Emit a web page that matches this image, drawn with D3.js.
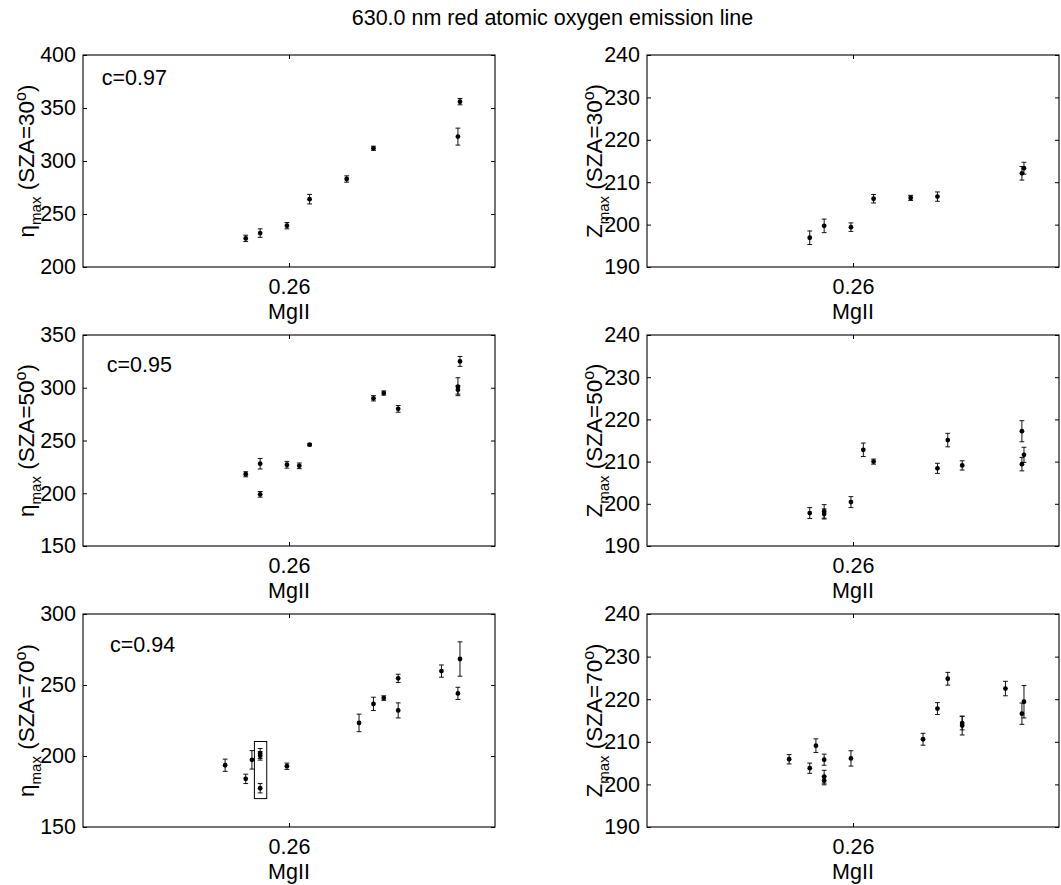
<!DOCTYPE html>
<html>
<head>
<meta charset="utf-8">
<script src="https://cdn.jsdelivr.net/npm/d3@7"></script>
<style>
  body { margin: 0; background: #fff; }
  svg { display: block; font-family: "Liberation Sans", Arial, Helvetica, sans-serif; }
</style>
</head>
<body>
<svg id="chart" width="1061" height="885"></svg>
<script>
// ---------------- DATA ----------------
const TITLE = "630.0 nm red atomic oxygen emission line";
const X_TICKS = [0.26];
const X_LABEL = "MgII";

// Row 1 : SZA = 30
const MG_30 = [0.2579, 0.2586, 0.2599, 0.2610, 0.2628, 0.2641, 0.2682, 0.2683];
const ETA_30 = [227, 232, 239, 264, 283, 312, 323, 356];
const ETA_30_ERR = [3, 4, 3, 4.5, 3, 2, 8, 3];
const Z_30 = [196.9, 199.7, 199.4, 206.1, 206.3, 206.6, 212.1, 213.3];
const Z_30_ERR = [1.6, 1.6, 1.0, 1.0, 0.6, 1.1, 1.6, 1.4];

// Row 2 : SZA = 50
const MG_50 = [0.2579, 0.2586, 0.2586, 0.2599, 0.2605, 0.2610, 0.2641, 0.2646, 0.2653, 0.2682, 0.2682, 0.2683];
const ETA_50 = [218, 228, 199, 227, 226, 246, 290, 295, 280, 301, 298, 325];
const ETA_50_ERR = [2.4, 5, 2.7, 3.2, 2.7, 1, 2.5, 2, 3.2, 8.5, 4, 4.7];
const Z_50 = [197.8, 198.2, 197.6, 200.4, 212.8, 210.0, 208.4, 215.1, 209.1, 217.2, 209.4, 211.6];
const Z_50_ERR = [1.3, 1.6, 1.2, 1.3, 1.6, 0.6, 1.2, 1.6, 1.1, 2.5, 1.6, 1.8];

// Row 3 : SZA = 70
const MG_70 = [0.2569, 0.2579, 0.2582, 0.2586, 0.2586, 0.2586, 0.2599, 0.2634, 0.2641, 0.2646, 0.2653, 0.2653, 0.2674, 0.2682, 0.2683];
const ETA_70 = [193.5, 183.9, 197.3, 201.8, 200.1, 177.3, 192.8, 223.3, 236.7, 240.8, 254.7, 232.1, 259.8, 244.1, 268.3];
const ETA_70_ERR = [4.3, 3.3, 6.5, 3.5, 3, 3.3, 2.2, 6.2, 4.7, 1.6, 2.9, 5.3, 4.3, 4.3, 12.1];
const Z_70 = [205.9, 203.8, 209.1, 205.8, 201.8, 200.9, 206.1, 210.6, 217.8, 224.8, 214.4, 213.8, 222.5, 216.6, 219.4];
const Z_70_ERR = [1.1, 1.2, 1.6, 1.3, 1.5, 1.0, 1.8, 1.4, 1.4, 1.5, 1.6, 2.2, 1.7, 2.5, 3.8];

const SZA = ["30", "50", "70"];
const ETA_DOMAINS = [[200, 400], [150, 350], [150, 300]];
const ETA_TICKS = [[200, 250, 300, 350, 400], [150, 200, 250, 300, 350], [150, 200, 250, 300]];
const Z_DOMAIN = [190, 240];
const Z_TICKS = [190, 200, 210, 220, 230, 240];
const CORR = ["c=0.97", "c=0.95", "c=0.94"];
const CORR_POS = [[0.25091, 371.7], [0.25115, 315.2], [0.25131, 273]];
// highlighted box in the SZA=70 eta panel: [x0, x1, y0, y1]
const BOX_70 = [0.25832, 0.25892, 170, 210.2];

// ---------------- LAYOUT ----------------
const X_DOMAIN = [0.25, 0.27];
const COLS = [{ left: 83, width: 412 }, { left: 647, width: 412 }];
const ROWS = [{ top: 55, height: 212 }, { top: 335, height: 211 }, { top: 614, height: 213 }];
const FS = 21.5;

const svg = d3.select("#chart");

svg.append("text")
  .attr("x", 552.5).attr("y", 25)
  .attr("text-anchor", "middle")
  .attr("font-size", FS)
  .attr("fill", "#000")
  .text(TITLE);

function drawPanel(col, row, xs, ys, errs, yDomain, yTicks, sym, sza, corr, corrPos, box) {
  const L = COLS[col], R = ROWS[row];
  const g = svg.append("g").attr("transform", `translate(${L.left},${R.top})`);
  const w = L.width, h = R.height;
  const x = d3.scaleLinear().domain(X_DOMAIN).range([0, w]);
  const y = d3.scaleLinear().domain(yDomain).range([h, 0]);

  // axes (ticks inward)
  const ax = (sel) => sel.call(s => s.select(".domain").remove())
    .call(s => s.selectAll("line").attr("stroke", "#000"))
    .call(s => s.selectAll("text").attr("font-size", FS).attr("fill", "#000")
      .attr("font-family", '"Liberation Sans", Arial, sans-serif'));

  g.append("g").call(d3.axisLeft(y).tickValues(yTicks).tickSize(-4).tickPadding(7)).call(ax);
  g.append("g").attr("transform", `translate(${w},0)`)
    .call(d3.axisRight(y).tickValues(yTicks).tickSize(-4).tickFormat("")).call(ax);
  g.append("g").attr("transform", `translate(0,${h})`)
    .call(d3.axisBottom(x).tickValues(X_TICKS).tickSize(-4).tickPadding(12).tickFormat(d3.format(".2f"))).call(ax);
  g.append("g")
    .call(d3.axisTop(x).tickValues(X_TICKS).tickSize(-4).tickFormat("")).call(ax);

  g.append("rect").attr("x", 0).attr("y", 0).attr("width", w).attr("height", h)
    .attr("fill", "none").attr("stroke", "#000").attr("stroke-width", 1.1);

  // x label
  g.append("text").attr("x", w / 2).attr("y", h + 52)
    .attr("text-anchor", "middle").attr("font-size", FS).attr("fill", "#000").text(X_LABEL);

  // y label
  const baseX = col === 0 ? -49 : -45;
  const yl = g.append("text")
    .attr("transform", `translate(${baseX},${h / 2}) rotate(-90)`)
    .attr("text-anchor", "middle").attr("font-size", 22.5).attr("fill", "#000");
  yl.append("tspan").text(sym);
  yl.append("tspan").attr("font-size", 15).attr("dy", 7).text("max");
  yl.append("tspan").attr("dy", -7).text(" (SZA=" + sza);
  yl.append("tspan").attr("font-size", 16).attr("dy", -8).text("o");
  yl.append("tspan").attr("dy", 8).text(")");

  // correlation text
  if (corr) {
    g.append("text").attr("x", x(corrPos[0])).attr("y", y(corrPos[1]))
      .attr("font-size", FS).attr("fill", "#000").text(corr);
  }

  const data = xs.map((v, i) => ({ x: v, y: ys[i], e: errs[i] }));
  const cap = 2.4;
  const eb = g.append("g").attr("stroke", "#111").attr("stroke-width", 1);
  data.forEach(d => {
    const cx = x(d.x), y0 = y(d.y - d.e), y1 = y(d.y + d.e);
    eb.append("line").attr("x1", cx).attr("x2", cx).attr("y1", y0).attr("y2", y1);
    eb.append("line").attr("x1", cx - cap).attr("x2", cx + cap).attr("y1", y0).attr("y2", y0);
    eb.append("line").attr("x1", cx - cap).attr("x2", cx + cap).attr("y1", y1).attr("y2", y1);
  });
  g.append("g").selectAll("circle").data(data).join("circle")
    .attr("cx", d => x(d.x)).attr("cy", d => y(d.y)).attr("r", 2.4).attr("fill", "#000");

  if (box) {
    g.append("rect")
      .attr("x", x(box[0])).attr("y", y(box[3]))
      .attr("width", x(box[1]) - x(box[0])).attr("height", y(box[2]) - y(box[3]))
      .attr("fill", "none").attr("stroke", "#000").attr("stroke-width", 1);
  }
}

const MGS = [MG_30, MG_50, MG_70];
const ETAS = [ETA_30, ETA_50, ETA_70];
const ETA_ERRS = [ETA_30_ERR, ETA_50_ERR, ETA_70_ERR];
const ZS = [Z_30, Z_50, Z_70];
const Z_ERRS = [Z_30_ERR, Z_50_ERR, Z_70_ERR];

for (let r = 0; r < 3; r++) {
  drawPanel(0, r, MGS[r], ETAS[r], ETA_ERRS[r], ETA_DOMAINS[r], ETA_TICKS[r], "η", SZA[r],
    CORR[r], CORR_POS[r], r === 2 ? BOX_70 : null);
  drawPanel(1, r, MGS[r], ZS[r], Z_ERRS[r], Z_DOMAIN, Z_TICKS, "Z", SZA[r], null, null, null);
}
</script>
</body>
</html>
